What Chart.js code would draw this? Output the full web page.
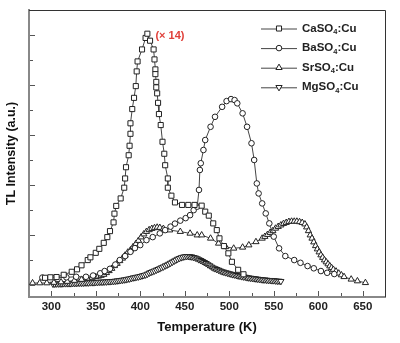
<!DOCTYPE html>
<html>
<head>
<meta charset="utf-8">
<script src="https://cdn.jsdelivr.net/npm/chart.js@4.4.1/dist/chart.umd.min.js"></script>
<style>
  body { margin: 0; background: #fff; }
  canvas { display: block; }
</style>
</head>
<body>
<canvas id="tlChart" width="400" height="343"></canvas>
<script>
// TL glow curves (temperature in K, intensity in arbitrary units)
const labels = ['CaSO4:Cu', 'BaSO4:Cu', 'SrSO4:Cu', 'MgSO4:Cu'];

const caTemp = [293, 299, 306, 314, 323, 329, 334, 341, 344, 350, 354, 359, 363, 366, 370, 371, 373, 378, 382, 383,
  384, 387, 388, 389, 389, 391, 393, 395, 396, 397, 402, 406, 408, 411, 415, 416, 417, 417, 418, 418,
  419, 420, 421, 423, 425, 427, 428, 431, 431, 435, 439, 447, 454, 461, 469, 473, 477, 482, 486, 489,
  494, 499, 503, 510, 516];
const caInt = [0.27, 0.29, 0.30, 0.39, 0.51, 0.61, 0.77, 0.98, 1.09, 1.27, 1.43, 1.67, 1.90, 2.14, 2.49, 2.84, 3.15, 3.45, 3.88, 4.25,
  4.70, 5.18, 5.56, 6.04, 6.46, 7.03, 7.48, 7.95, 8.54, 8.94, 9.42, 9.88, 10.05, 9.77, 9.42, 9.02, 8.62, 8.43, 8.12, 7.90,
  7.66, 7.28, 6.83, 6.39, 5.72, 5.24, 4.78, 4.25, 3.88, 3.56, 3.29, 3.19, 3.19, 3.19, 3.16, 2.92, 2.76, 2.45, 2.18, 1.85,
  1.54, 1.25, 0.91, 0.59, 0.41];

const baTemp = [290, 304, 317, 328, 339, 347, 355, 360, 366, 372, 377, 383, 389, 394, 400, 407, 414, 422, 428, 434,
  439, 445, 451, 456, 460, 464, 466, 467, 468, 471, 473, 479, 484, 492, 497, 502, 506, 509, 515, 520,
  525, 528, 531, 533, 537, 541, 545, 550, 556, 563, 573, 580, 588, 595, 603, 610, 618];
const baInt = [0.28, 0.28, 0.29, 0.31, 0.31, 0.36, 0.45, 0.54, 0.63, 0.80, 0.98, 1.14, 1.31, 1.46, 1.58, 1.78, 1.90, 2.05, 2.18, 2.32,
  2.44, 2.56, 2.66, 2.78, 2.98, 3.12, 3.79, 4.59, 4.86, 5.39, 5.79, 6.32, 6.72, 7.12, 7.35, 7.43, 7.39, 7.26, 6.86, 6.32,
  5.66, 4.99, 4.05, 3.65, 3.25, 2.85, 2.45, 1.92, 1.45, 1.14, 0.98, 0.87, 0.74, 0.65, 0.54, 0.47, 0.42];

const srTemp = [279, 287, 295, 303, 311, 318, 326, 334, 341, 346, 350, 353, 356, 359, 362, 365, 368, 371, 374, 377,
  380, 383, 386, 389, 392, 395, 398, 401, 404, 407, 410, 413, 416, 419, 422, 426, 433, 445, 456, 464,
  469, 479, 488, 496, 505, 515, 522, 530, 537, 540, 543, 546, 549, 552, 555, 558, 561, 564, 567, 570,
  573, 576, 579, 582, 585, 587, 589, 591, 593, 595, 597, 599, 601, 603, 605, 607, 609, 611, 613, 615,
  617, 620, 623, 626, 629, 637, 644, 653];
const srInt = [0.06, 0.06, 0.06, 0.08, 0.10, 0.12, 0.16, 0.20, 0.24, 0.28, 0.31, 0.33, 0.36, 0.40, 0.47, 0.55, 0.64, 0.75, 0.84, 0.95,
  1.05, 1.17, 1.29, 1.38, 1.51, 1.63, 1.76, 1.90, 2.02, 2.12, 2.19, 2.24, 2.27, 2.29, 2.28, 2.24, 2.18, 2.12, 2.05, 1.98,
  1.98, 1.85, 1.65, 1.51, 1.45, 1.49, 1.58, 1.71, 1.85, 1.92, 2.00, 2.08, 2.15, 2.25, 2.32, 2.38, 2.44, 2.48, 2.52, 2.53,
  2.53, 2.53, 2.51, 2.48, 2.42, 2.30, 2.15, 1.98, 1.85, 1.70, 1.55, 1.42, 1.30, 1.18, 1.08, 0.98, 0.90, 0.82, 0.74, 0.67,
  0.60, 0.53, 0.45, 0.38, 0.31, 0.21, 0.14, 0.07];

const mgTemp = [302, 304, 306, 308, 310, 312, 314, 316, 318, 320, 322, 324, 326, 328, 330, 332, 334, 336, 338, 340,
  342, 344, 346, 348, 350, 352, 354, 356, 358, 360, 362, 364, 366, 368, 370, 372, 374, 376, 378, 380,
  382, 384, 386, 388, 390, 392, 394, 396, 398, 400, 402, 404, 406, 408, 410, 412, 414, 416, 418, 420,
  422, 424, 426, 428, 430, 432, 434, 436, 438, 440, 442, 444, 446, 448, 450, 452, 454, 456, 458, 460,
  462, 464, 466, 468, 470, 472, 474, 476, 478, 480, 482, 484, 486, 488, 490, 492, 494, 496, 498, 500,
  502, 504, 506, 508, 510, 512, 514, 516, 518, 520, 522, 524, 526, 528, 530, 532, 534, 536, 538, 540,
  542, 544, 546, 548, 550, 552, 554, 556, 558];
const mgInt = [0.02, 0.02, 0.03, 0.03, 0.03, 0.03, 0.04, 0.04, 0.04, 0.04, 0.04, 0.05, 0.05, 0.05, 0.06, 0.06, 0.06, 0.06, 0.07, 0.07,
  0.07, 0.08, 0.08, 0.08, 0.09, 0.09, 0.10, 0.10, 0.10, 0.11, 0.11, 0.12, 0.12, 0.13, 0.13, 0.14, 0.15, 0.16, 0.17, 0.18,
  0.19, 0.20, 0.22, 0.23, 0.25, 0.27, 0.28, 0.30, 0.31, 0.33, 0.35, 0.37, 0.39, 0.42, 0.46, 0.49, 0.52, 0.55, 0.58, 0.61,
  0.64, 0.68, 0.71, 0.75, 0.78, 0.82, 0.86, 0.90, 0.94, 0.98, 1.02, 1.05, 1.08, 1.10, 1.12, 1.13, 1.13, 1.12, 1.11, 1.09,
  1.07, 1.04, 1.00, 0.97, 0.93, 0.89, 0.85, 0.80, 0.76, 0.71, 0.67, 0.64, 0.61, 0.58, 0.55, 0.52, 0.50, 0.48, 0.46, 0.44,
  0.42, 0.40, 0.39, 0.37, 0.35, 0.34, 0.32, 0.31, 0.30, 0.28, 0.27, 0.26, 0.25, 0.24, 0.23, 0.22, 0.21, 0.20, 0.19, 0.19,
  0.18, 0.17, 0.17, 0.16, 0.16, 0.15, 0.14, 0.14, 0.13];

const xTicksMajor = [300, 350, 400, 450, 500, 550, 600, 650];
const scaleNote = '(\u00d7 14)';

function pairs(xs, ys) {
  return xs.map((x, i) => ({ x: x, y: ys[i] }));
}

const markers = [
  { style: 'rect', radius: 3.6, rotation: 0 },
  { style: 'circle', radius: 2.8, rotation: 0 },
  { style: 'triangle', radius: 3.6, rotation: 0 },
  { style: 'triangle', radius: 3.6, rotation: 180 }
];

function makeSet(i, xs, ys) {
  return {
    label: labels[i],
    data: pairs(xs, ys),
    showLine: true,
    borderColor: '#444',
    borderWidth: 1,
    pointStyle: markers[i].style,
    pointRotation: markers[i].rotation,
    pointRadius: markers[i].radius,
    pointBorderColor: '#222',
    pointBackgroundColor: '#fff',
    pointBorderWidth: 1,
    tension: 0
  };
}

// inward tick marks, the closed frame and the "(x 14)" note
const framePlugin = {
  id: 'frameTicks',
  afterDraw(chart) {
    const ctx = chart.ctx;
    const a = chart.chartArea;
    const xs = chart.scales.x;
    const ys = chart.scales.y;
    ctx.save();
    ctx.strokeStyle = '#555';
    ctx.lineWidth = 1;
    ctx.beginPath();
    for (let t = 300; t <= 650; t += 25) {
      const px = Math.round(xs.getPixelForValue(t)) + 0.5;
      const len = t % 50 === 0 ? 5 : 3;
      ctx.moveTo(px, a.bottom - 1);
      ctx.lineTo(px, a.bottom - 1 - len);
    }
    for (let v = 0; v <= 10; v++) {
      const py = Math.round(ys.getPixelForValue(v)) + 0.5;
      const len = v % 2 === 0 ? 5 : 3;
      ctx.moveTo(a.left + 1, py);
      ctx.lineTo(a.left + 1 + len, py);
    }
    ctx.stroke();

    ctx.strokeStyle = '#333';
    ctx.beginPath();
    ctx.moveTo(a.left, Math.round(a.top) + 0.5);
    ctx.lineTo(Math.round(a.right) + 0.5, Math.round(a.top) + 0.5);
    ctx.lineTo(Math.round(a.right) + 0.5, a.bottom);
    ctx.stroke();

    ctx.fillStyle = '#e0403a';
    ctx.font = 'bold 11px "Liberation Sans", Arial, sans-serif';
    ctx.textAlign = 'left';
    ctx.textBaseline = 'middle';
    ctx.fillText(scaleNote, xs.getPixelForValue(417), ys.getPixelForValue(9.95));
    ctx.restore();
  }
};

function drawMarker(ctx, style, rotation, r, x, y) {
  ctx.beginPath();
  if (style === 'rect') {
    const s = r * Math.SQRT1_2;
    ctx.rect(x - s, y - s, 2 * s, 2 * s);
  } else if (style === 'circle') {
    ctx.arc(x, y, r, 0, Math.PI * 2);
  } else {
    const dir = rotation === 180 ? -1 : 1;
    ctx.moveTo(x, y - dir * r);
    ctx.lineTo(x + r * 0.87, y + dir * r * 0.5);
    ctx.lineTo(x - r * 0.87, y + dir * r * 0.5);
    ctx.closePath();
  }
  ctx.fill();
  ctx.stroke();
}

// legend with line + marker and subscripted formula
const legendPlugin = {
  id: 'sampleLegend',
  afterDraw(chart) {
    const ctx = chart.ctx;
    const a = chart.chartArea;
    const x0 = a.right - 124;
    ctx.save();
    chart.data.datasets.forEach((ds, i) => {
      const y = a.top + 18.5 + i * 19.6;
      ctx.strokeStyle = '#444';
      ctx.lineWidth = 1;
      ctx.beginPath();
      ctx.moveTo(x0, y + 0.5);
      ctx.lineTo(x0 + 36, y + 0.5);
      ctx.stroke();
      ctx.fillStyle = '#fff';
      ctx.strokeStyle = '#222';
      drawMarker(ctx, markers[i].style, markers[i].rotation, markers[i].radius, x0 + 18, y);

      const m = ds.label.match(/^(.*?)(\d)(.*)$/);
      ctx.fillStyle = '#222';
      ctx.textAlign = 'left';
      ctx.textBaseline = 'middle';
      let tx = x0 + 41;
      ctx.font = 'bold 11.5px "Liberation Sans", Arial, sans-serif';
      ctx.fillText(m[1], tx, y);
      tx += ctx.measureText(m[1]).width;
      ctx.font = 'bold 7.5px "Liberation Sans", Arial, sans-serif';
      ctx.fillText(m[2], tx, y + 3.5);
      tx += ctx.measureText(m[2]).width;
      ctx.font = 'bold 11.5px "Liberation Sans", Arial, sans-serif';
      ctx.fillText(m[3], tx, y);
    });
    ctx.restore();
  }
};

const ctx = document.getElementById('tlChart').getContext('2d');
new Chart(ctx, {
  type: 'scatter',
  data: {
    datasets: [
      makeSet(0, caTemp, caInt),
      makeSet(1, baTemp, baInt),
      makeSet(2, srTemp, srInt),
      makeSet(3, mgTemp, mgInt)
    ]
  },
  options: {
    responsive: false,
    animation: false,
    layout: { padding: { top: 10, right: 15, left: 0, bottom: 0 } },
    plugins: {
      legend: { display: false },
      tooltip: { enabled: false }
    },
    scales: {
      x: {
        type: 'linear',
        min: 275,
        max: 675,
        afterFit(scale) { scale.height = 46; },
        afterBuildTicks(scale) {
          scale.ticks = xTicksMajor.map(v => ({ value: v }));
        },
        ticks: {
          color: '#222',
          padding: 3,
          maxRotation: 0,
          font: { family: '"Liberation Sans", Arial, sans-serif', weight: 'bold', size: 11.5 }
        },
        grid: { display: false, drawTicks: false },
        border: { display: true, color: '#888', width: 2 },
        title: {
          display: true,
          text: 'Temperature (K)',
          color: '#111',
          font: { family: '"Liberation Sans", Arial, sans-serif', weight: 'bold', size: 13 },
          padding: { top: 0, bottom: 8 }
        }
      },
      y: {
        type: 'linear',
        min: -0.5,
        max: 11,
        afterFit(scale) { scale.width = 29; },
        ticks: { display: false },
        grid: { display: false, drawTicks: false },
        border: { display: true, color: '#888', width: 2 },
        title: {
          display: true,
          text: 'TL Intensity (a.u.)',
          color: '#111',
          font: { family: '"Liberation Sans", Arial, sans-serif', weight: 'bold', size: 12.5 },
          padding: { top: 4, bottom: 0 }
        }
      }
    }
  },
  plugins: [framePlugin, legendPlugin]
});
</script>
</body>
</html>
